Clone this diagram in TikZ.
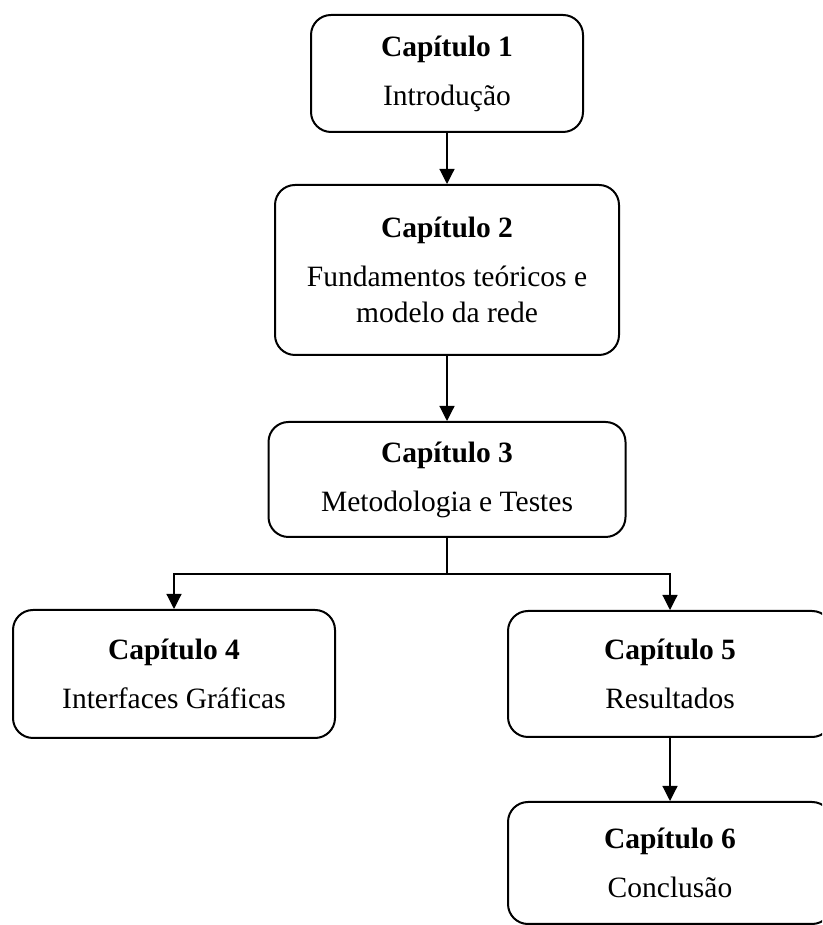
\documentclass[tikz,border=0pt]{standalone}
\usepackage{fontspec}
\setmainfont{Liberation Serif}
\usetikzlibrary{arrows.meta}

\begin{document}
\begin{tikzpicture}[x=1pt,y=1pt,
		chap/.style={draw, line width=2pt, rounded corners=20pt, align=center,
			font=\fontsize{29.5}{36}\selectfont, inner sep=0pt},
		conn/.style={line width=1.2pt, -{Triangle[width=15pt,length=15pt]}}]
		\clip(0,0) rectangle (822,925);
		\node[chap, minimum width=272pt, minimum height=117pt] (c1) at(447,851.5) {\textbf{Capítulo 1}\\[13pt]Introdução};
		\node[chap, minimum width=344pt, minimum height=170pt] (c2) at(447,655) {\textbf{Capítulo 2}\\[13pt]Fundamentos teóricos e\\modelo da rede};
		\node[chap, minimum width=357pt, minimum height=115pt] (c3) at(447,445.5) {\textbf{Capítulo 3}\\[13pt]Metodologia e Testes};
		\node[chap, minimum width=322pt, minimum height=128pt] (c4) at(174,251) {\textbf{Capítulo 4}\\[13pt]Interfaces Gráficas};
		\node[chap, minimum width=324pt, minimum height=126pt] (c5) at(670,251) {\textbf{Capítulo 5}\\[13pt]Resultados};
		\node[chap, minimum width=324pt, minimum height=122pt] (c6) at(670,62) {\textbf{Capítulo 6}\\[13pt]Conclusão};
		\coordinate (split) at(447,351);
		\draw[conn](c1)--(c2);
		\draw[conn](c2)--(c3);
		\draw[line width=1.2pt](c3.south)--(split);
		\draw[conn](split)-|(c4.north);
		\draw[conn](split)-|(c5.north);
		\draw[conn](c5)--(c6);
		\end{tikzpicture}
\end{document}
